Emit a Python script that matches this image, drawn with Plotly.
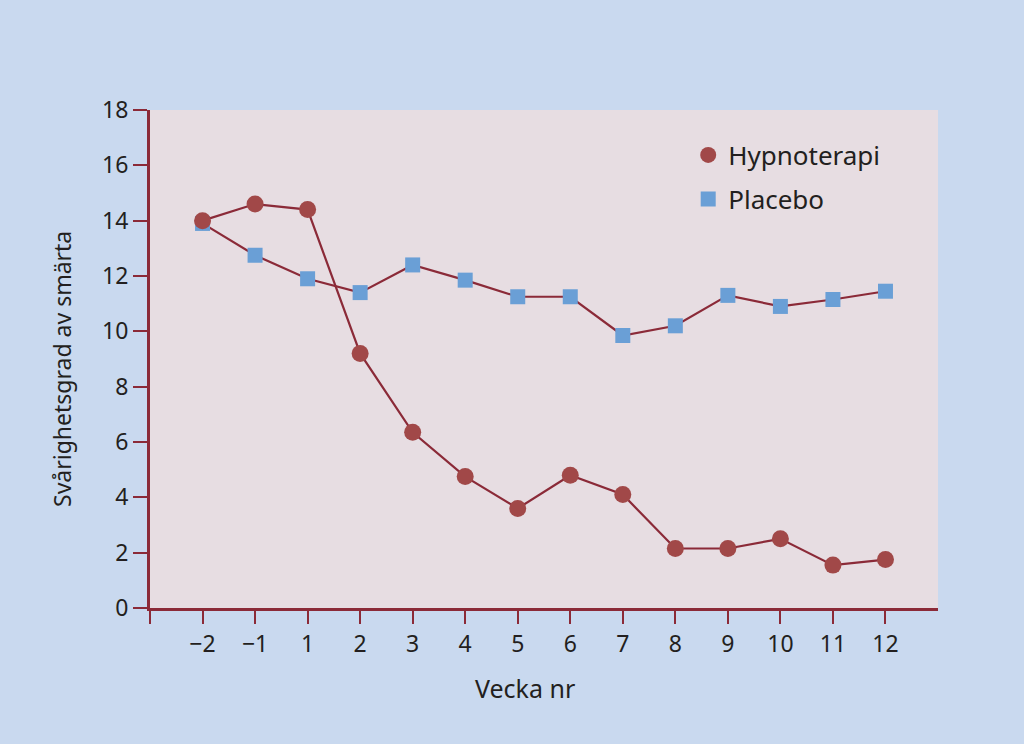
import plotly.graph_objects as go

weeks = ["−2", "−1", "1", "2", "3", "4", "5", "6", "7", "8", "9", "10", "11", "12"]
hypnoterapi = [14.0, 14.6, 14.4, 9.2, 6.35, 4.75, 3.6, 4.8, 4.1, 2.15, 2.15, 2.5, 1.55, 1.75]
placebo = [13.9, 12.75, 11.9, 11.4, 12.4, 11.85, 11.25, 11.25, 9.85, 10.2, 11.3, 10.9, 11.15, 11.45]
y_ticks = [0, 2, 4, 6, 8, 10, 12, 14, 16, 18]

axis_col = "#8b2a38"
line_col = "#8b2a38"
circle_col = "#a14848"
square_col = "#6a9fd6"
font_fam = "Noto Sans, Open Sans, sans-serif"
text_col = "#231f20"

xpos = list(range(1, len(weeks) + 1))

fig = go.Figure()
fig.add_trace(go.Scatter(
    x=xpos, y=placebo, mode="lines+markers", name="Placebo", showlegend=False,
    line=dict(color=line_col, width=2.2),
    marker=dict(symbol="square", size=15, color=square_col),
))
fig.add_trace(go.Scatter(
    x=xpos, y=hypnoterapi, mode="lines+markers", name="Hypnoterapi", showlegend=False,
    line=dict(color=line_col, width=2.2),
    marker=dict(symbol="circle", size=17, color=circle_col),
))
# legend-only entries (markers without lines)
fig.add_trace(go.Scatter(
    x=[None], y=[None], mode="markers", name="Hypnoterapi", legend="legend",
    marker=dict(symbol="circle", size=17, color=circle_col),
))
fig.add_trace(go.Scatter(
    x=[None], y=[None], mode="markers", name="Placebo", legend="legend2",
    marker=dict(symbol="square", size=15, color=square_col),
))

leg_common = dict(
    x=0.683, xanchor="left", yanchor="middle",
    bgcolor="rgba(0,0,0,0)", itemsizing="trace",
    font=dict(size=26, color=text_col),
)

fig.update_layout(
    width=1024, height=744,
    paper_bgcolor="#c9d9ef",
    plot_bgcolor="#e7dde2",
    margin=dict(l=150, r=86, t=110, b=136),
    font=dict(family=font_fam, color=text_col, size=20),
    showlegend=True,
    legend=dict(y=0.9096, **leg_common),
    legend2=dict(y=0.8213, **leg_common),
    xaxis=dict(
        range=[0, 15], tickmode="array",
        tickvals=[0] + xpos, ticktext=[""] + weeks,
        showline=True, linecolor=axis_col, linewidth=3,
        ticks="outside", ticklen=13, tickwidth=2, tickcolor=axis_col,
        showgrid=False, zeroline=False,
        tickfont=dict(size=23),
    ),
    yaxis=dict(
        range=[0, 18], tickmode="array", tickvals=y_ticks,
        showline=True, linecolor=axis_col, linewidth=3,
        ticks="outside", ticklen=14, tickwidth=2, tickcolor=axis_col,
        showgrid=False, zeroline=False,
        tickfont=dict(size=23),
    ),
    annotations=[
        dict(text="Vecka nr", xref="paper", yref="paper", x=0.476, y=-0.1606,
             xanchor="center", yanchor="middle", showarrow=False,
             font=dict(size=25, color=text_col)),
        dict(text="Svårighetsgrad av smärta", xref="paper", yref="paper",
             x=-0.1117, y=0.48, xanchor="center", yanchor="middle",
             textangle=-90, showarrow=False,
             font=dict(size=23, color=text_col)),
    ],
)

fig.write_html("out.html")
